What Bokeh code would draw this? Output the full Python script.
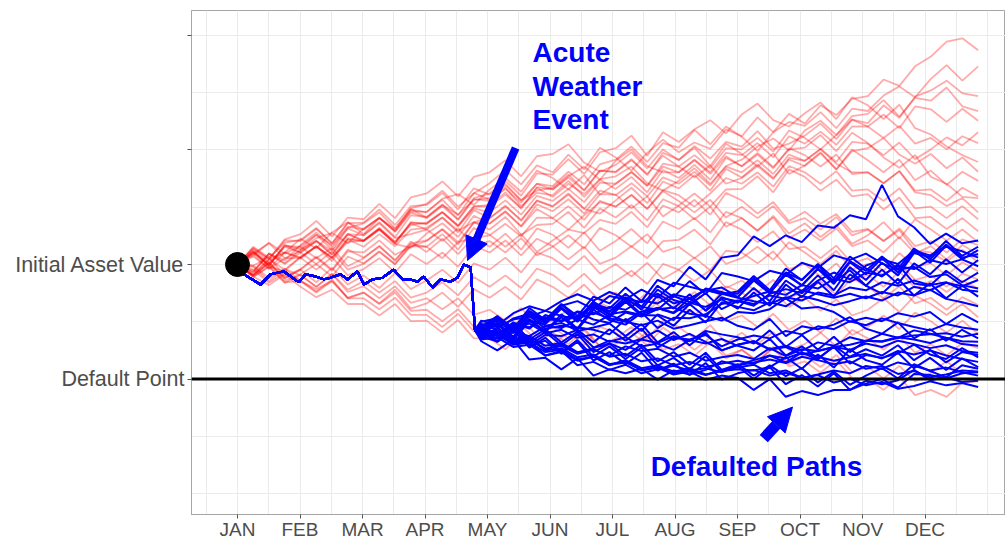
import numpy as np
from bokeh.plotting import figure
from bokeh.models import FixedTicker, Span, Arrow, NormalHead, Label, Range1d
from bokeh.embed import file_html
from bokeh.resources import INLINE

# ---------------- data ----------------
months = ["JAN", "FEB", "MAR", "APR", "MAY", "JUN", "JUL", "AUG", "SEP", "OCT", "NOV", "DEC"]
month_pos = [1, 2, 3, 4, 5, 6, 7, 8, 9, 10, 11, 12]
initial_value = 100
default_point = 80
y_ticks = [80, 100, 120, 140]
y_tick_labels = ["Default Point", "Initial Asset Value", "", ""]

# simulation time grid (months)
red_t = np.linspace(1, 12.85, 48).tolist()
blue_t = np.linspace(4.9, 12.85, 32).tolist()

# surviving (red) paths
red_01 = [100, 102.6, 100.4, 102.1, 104.5, 102.8, 105.6, 107.4, 105.3, 108.1, 106.2, 109.8, 110.6, 112.9, 110.1, 112.4,
          114.2, 116.5, 114.0, 117.3, 116.1, 119.2, 116.6, 120.4, 118.7, 116.4, 119.5, 121.8, 119.6, 121.3, 120.2, 123.6,
          122.4, 125.7, 123.1, 126.3, 124.6, 127.8, 126.1, 128.9, 129.4, 132.3, 131.2, 134.6, 136.3, 138.9, 139.5, 137.4]
red_02 = [100, 98.6, 101.9, 100.7, 103.4, 105.6, 103.1, 106.4, 107.2, 109.1, 106.3, 109.7, 108.2, 110.4, 108.7, 111.3,
          111.6, 113.8, 111.2, 114.1, 113.7, 116.2, 114.0, 117.5, 118.3, 120.6, 117.9, 121.2, 120.4, 123.5, 121.0, 124.1,
          122.3, 119.8, 123.1, 124.9, 124.2, 126.6, 123.8, 127.2, 126.8, 129.5, 131.1, 129.2, 132.4, 134.8, 132.1, 134.6]
red_03 = [100, 102.8, 101.0, 104.4, 105.3, 107.6, 104.9, 108.2, 107.9, 110.6, 108.1, 111.7, 112.4, 114.5, 111.9, 115.3,
          116.1, 118.2, 115.4, 118.9, 119.3, 121.0, 117.8, 116.2, 117.4, 119.6, 116.8, 120.1, 118.2, 120.7, 118.5, 121.4,
          120.6, 123.3, 120.2, 121.1, 122.5, 124.6, 121.9, 125.3, 124.7, 127.8, 125.6, 129.3, 130.4, 132.1, 129.9, 129.4]
red_04 = [100, 98.7, 101.9, 100.2, 102.6, 104.1, 101.8, 105.3, 104.2, 106.4, 104.0, 106.9, 107.3, 109.2, 106.8, 110.1,
          110.4, 112.6, 109.7, 113.4, 111.8, 114.1, 112.3, 114.9, 115.4, 117.1, 114.2, 112.9, 114.6, 116.8, 114.1, 117.2,
          118.3, 120.6, 122.0, 119.9, 123.4, 125.1, 122.6, 125.9, 126.3, 128.7, 125.8, 129.1, 128.6, 130.9, 127.6, 126.8]
red_05 = [100, 102.3, 99.8, 103.4, 102.7, 105.2, 102.6, 106.3, 105.1, 107.4, 104.8, 108.6, 108.3, 110.5, 107.9, 111.6,
          112.4, 114.6, 112.0, 115.9, 115.7, 118.4, 115.8, 119.6, 120.3, 122.5, 119.0, 123.1, 121.4, 123.6, 125.2, 122.9,
          126.2, 128.1, 125.2, 124.1, 126.4, 128.3, 125.4, 129.2, 127.8, 125.4, 127.9, 123.8, 122.7, 120.6, 119.1, 117.9]
red_06 = [100, 103.1, 101.2, 103.8, 104.3, 106.4, 103.7, 107.2, 107.3, 109.6, 106.9, 110.2, 110.4, 112.5, 109.6, 113.3,
          112.2, 114.1, 111.2, 112.9, 113.4, 115.7, 113.0, 116.4, 116.2, 118.4, 115.6, 119.5, 118.3, 120.4, 117.2, 121.1,
          119.3, 117.1, 119.4, 115.8, 117.3, 119.6, 116.6, 120.1, 118.2, 116.1, 118.3, 114.7, 116.4, 113.9, 116.2, 114.6]
red_07 = [100, 101.9, 103.7, 101.1, 102.4, 104.6, 105.5, 103.7, 106.3, 108.1, 105.8, 109.3, 109.2, 111.3, 108.6, 112.5,
          111.3, 113.4, 110.2, 112.5, 112.1, 114.6, 111.8, 114.8, 113.2, 115.3, 112.6, 116.5, 115.1, 117.4, 114.8, 118.6,
          117.2, 119.5, 117.0, 120.1, 120.4, 122.6, 119.8, 123.0, 121.2, 118.7, 116.9, 119.1, 115.3, 114.1, 111.8, 111.6]
red_08 = [100, 98.2, 100.9, 99.1, 101.3, 103.2, 100.6, 104.4, 103.1, 105.3, 103.2, 106.1, 106.4, 108.2, 105.6, 109.5,
          108.1, 110.3, 107.6, 111.2, 110.2, 112.4, 109.7, 108.9, 111.2, 113.4, 110.7, 114.5, 113.3, 115.6, 112.9, 116.7,
          115.2, 117.5, 115.1, 118.3, 117.2, 119.4, 116.6, 119.8, 120.3, 122.1, 119.2, 117.6, 119.3, 116.8, 118.7, 116.2]
red_09 = [100, 102.4, 99.6, 98.9, 101.3, 103.1, 101.2, 103.9, 104.2, 106.3, 103.6, 102.9, 105.4, 107.2, 104.8, 108.5,
          107.2, 109.3, 106.7, 110.5, 109.3, 111.4, 108.9, 112.3, 112.2, 109.8, 111.9, 108.4, 110.3, 112.4, 110.1, 113.1,
          113.2, 115.4, 112.6, 116.6, 115.3, 112.9, 114.8, 111.9, 112.3, 109.6, 111.7, 108.1, 108.3, 106.2, 108.1, 105.8]
red_10 = [100, 99.8, 101.3, 97.9, 99.2, 101.4, 99.1, 102.6, 101.2, 103.1, 100.8, 103.7, 104.2, 106.1, 103.5, 107.4,
          106.1, 108.3, 105.2, 106.9, 107.1, 109.2, 106.4, 109.8, 108.2, 110.4, 107.7, 111.4, 110.2, 107.9, 110.1, 106.6,
          108.1, 105.9, 108.5, 105.4, 107.2, 104.8, 106.9, 103.6, 105.1, 107.4, 104.5, 107.9, 106.1, 104.2, 106.1, 103.9]
red_11 = [100, 102.1, 99.8, 103.2, 103.1, 101.1, 102.9, 99.7, 101.1, 103.3, 100.6, 104.0, 102.2, 104.5, 101.8, 104.8,
          103.1, 105.4, 102.6, 106.3, 105.2, 102.9, 105.6, 102.4, 104.1, 106.2, 103.7, 107.5, 106.2, 108.1, 105.6, 109.2,
          108.1, 105.9, 108.2, 104.6, 106.1, 104.2, 106.3, 103.2, 104.2, 102.1, 104.8, 101.9, 103.2, 100.9, 103.4, 101.8]
red_12 = [100, 98.1, 100.2, 97.2, 98.3, 100.1, 97.9, 101.4, 100.2, 102.3, 100.1, 103.2, 103.1, 105.3, 102.6, 106.4,
          105.2, 103.1, 105.3, 102.2, 104.2, 106.1, 105.5, 107.8, 107.1, 109.2, 106.5, 110.3, 109.1, 111.3, 108.7, 112.5,
          111.2, 108.9, 110.9, 107.6, 109.2, 107.1, 108.8, 105.7, 106.2, 104.1, 106.0, 102.4, 102.1, 100.5, 102.6, 100.4]
red_13 = [100, 98.3, 100.9, 102.1, 101.2, 99.1, 101.3, 98.1, 99.2, 101.1, 98.6, 101.8, 100.1, 102.1, 99.6, 103.3,
          102.1, 104.2, 101.6, 104.5, 103.2, 100.9, 103.1, 100.1, 101.2, 103.2, 101.1, 104.1, 104.3, 106.1, 103.5, 107.4,
          106.1, 103.9, 105.8, 102.7, 103.1, 101.1, 103.3, 100.2, 101.1, 98.9, 102.0, 99.6, 100.2, 98.1, 100.4, 98.8]
red_14 = [100, 98.1, 100.3, 97.6, 99.1, 96.9, 99.4, 96.5, 98.1, 95.9, 98.5, 95.7, 97.2, 99.1, 96.8, 100.2,
          99.1, 101.2, 98.6, 102.1, 101.1, 99.1, 101.5, 98.4, 100.1, 97.9, 100.3, 97.5, 99.1, 101.2, 99.0, 102.4,
          102.1, 100.2, 102.3, 99.2, 100.1, 97.9, 100.2, 97.1, 98.2, 96.1, 98.8, 95.9, 97.1, 95.2, 97.2, 95.8]
red_15 = [100, 97.8, 99.6, 96.8, 98.2, 96.1, 98.4, 95.6, 97.1, 95.1, 97.1, 94.2, 95.1, 96.9, 94.6, 97.8,
          96.1, 98.1, 95.9, 99.3, 98.2, 96.1, 98.4, 95.6, 97.1, 98.9, 96.6, 100.1, 99.1, 97.1, 99.0, 95.9,
          97.2, 95.1, 97.3, 94.3, 95.1, 97.1, 94.7, 97.6, 96.1, 94.1, 96.2, 93.2, 94.2, 92.1, 94.3, 92.9]
red_16 = [100, 99.1, 96.8, 98.6, 97.2, 95.3, 97.4, 94.1, 95.1, 93.2, 95.6, 92.3, 93.2, 95.1, 92.6, 95.7,
          94.2, 96.1, 93.9, 97.4, 96.1, 94.2, 96.5, 93.6, 95.1, 92.8, 95.1, 91.9, 93.1, 95.2, 92.9, 96.2,
          95.1, 93.1, 95.4, 92.6, 94.2, 91.9, 93.9, 91.1, 92.1, 94.1, 91.7, 94.6, 93.1, 91.2, 93.1, 90.8]
red_17 = [100, 99.6, 97.1, 99.2, 98.1, 96.1, 98.3, 95.2, 96.2, 94.1, 96.2, 93.3, 94.1, 92.2, 94.1, 91.2,
          92.1, 90.2, 92.4, 89.1, 90.2, 92.1, 89.8, 93.2, 92.1, 94.0, 91.6, 94.7, 93.1, 91.2, 93.2, 90.1,
          91.1, 89.1, 91.4, 88.6, 90.2, 88.1, 90.6, 87.7, 89.1, 91.1, 88.7, 91.6, 90.1, 88.1, 90.2, 87.9]
red_18 = [100, 97.9, 99.7, 96.9, 97.1, 95.1, 97.1, 94.1, 94.1, 92.2, 94.2, 91.2, 91.2, 89.1, 91.4, 88.3,
          89.1, 87.1, 89.4, 86.6, 88.1, 86.1, 88.5, 85.7, 87.1, 89.1, 86.9, 90.2, 89.1, 87.1, 89.4, 86.3,
          88.1, 86.1, 88.2, 85.1, 86.1, 88.1, 85.7, 88.6, 87.1, 85.1, 87.4, 84.6, 86.1, 84.1, 86.3, 85.4]
red_19 = [100, 97.9, 96.4, 98.3, 96.1, 94.3, 95.6, 93.1, 93.1, 91.1, 93.1, 90.1, 90.2, 88.1, 90.3, 87.1,
          87.1, 85.2, 87.6, 85.7, 86.1, 88.1, 85.9, 89.1, 88.1, 86.1, 88.2, 85.1, 86.1, 84.1, 86.4, 83.6,
          85.1, 83.1, 85.6, 82.6, 84.1, 82.1, 84.2, 81.2, 82.1, 80.1, 82.3, 79.6, 81.1, 83.1, 80.9, 82.1]
red_20 = [100, 99.8, 97.6, 99.2, 97.1, 95.7, 97.1, 94.2, 95.1, 93.1, 95.1, 91.9, 92.1, 90.1, 92.2, 89.1,
          90.1, 88.1, 90.6, 87.6, 89.1, 87.1, 88.9, 85.7, 86.1, 88.1, 85.9, 89.0, 87.1, 85.1, 87.2, 84.1,
          85.1, 83.1, 85.4, 82.2, 83.1, 81.1, 83.3, 80.2, 80.1, 78.1, 80.4, 77.2, 78.1, 76.9, 79.4, 79.6]
red_21 = [100, 102.1, 99.9, 103.4, 102.1, 100.1, 102.3, 99.1, 100.1, 102.2, 100.0, 103.5, 103.1, 101.1, 103.9, 104.6,
          105.1, 107.1, 104.9, 108.2, 108.1, 106.1, 108.6, 110.9, 110.1, 112.1, 109.7, 113.0, 112.1, 110.1, 112.4, 115.1,
          114.1, 116.1, 113.6, 117.2, 116.1, 114.1, 116.3, 112.9, 113.1, 111.1, 113.3, 109.8, 110.1, 108.1, 110.2, 107.9]
red_22 = [100, 102.9, 100.9, 104.2, 104.1, 106.2, 103.7, 107.3, 106.1, 108.1, 105.9, 109.6, 109.1, 111.5, 112.3, 110.4,
          113.1, 115.1, 112.7, 116.4, 115.1, 113.1, 115.6, 112.2, 114.1, 116.1, 113.8, 117.6, 117.1, 119.1, 116.8, 120.3,
          120.1, 122.1, 119.7, 123.4, 122.1, 120.1, 122.6, 125.3, 124.1, 122.1, 124.2, 121.1, 122.1, 120.1, 122.4, 121.2]
red_23 = [100, 101.8, 99.2, 101.1, 101.1, 103.2, 101.2, 104.4, 104.1, 106.1, 103.6, 107.3, 107.1, 109.1, 106.8, 110.2,
          110.1, 112.2, 109.9, 113.5, 113.1, 115.4, 117.1, 114.8, 118.1, 120.1, 117.2, 116.1, 116.1, 118.3, 116.1, 119.5,
          119.1, 121.2, 118.7, 122.4, 121.1, 123.2, 120.9, 124.1, 124.1, 126.2, 123.8, 127.6, 127.1, 124.9, 127.2, 125.1]
red_24 = [100, 98.9, 101.9, 100.1, 102.1, 104.1, 101.7, 105.3, 104.1, 106.1, 103.9, 107.2, 106.1, 104.1, 106.3, 103.3,
          104.1, 102.1, 104.6, 101.6, 103.1, 105.1, 102.8, 106.4, 105.1, 103.1, 105.3, 102.2, 103.1, 101.1, 103.2, 100.1,
          101.1, 103.1, 100.8, 103.9, 102.1, 100.1, 102.4, 99.1, 100.1, 98.1, 100.2, 97.3, 98.1, 96.1, 98.4, 97.4]
red_25 = [100, 101.6, 103.8, 101.9, 103.2, 105.2, 103.4, 106.6, 106.1, 108.2, 105.7, 109.1, 108.1, 110.2, 107.8, 111.4,
          111.1, 113.2, 110.8, 114.1, 113.1, 115.2, 112.9, 116.4, 116.1, 118.2, 115.8, 119.0, 117.1, 115.2, 117.3, 114.1,
          115.1, 117.2, 114.9, 118.6, 118.1, 120.1, 117.6, 116.1, 116.1, 114.2, 116.3, 112.9, 113.1, 111.1, 113.4, 111.9]
red_26 = [100, 101.4, 99.3, 102.1, 101.1, 103.2, 101.1, 104.6, 104.1, 106.2, 103.7, 107.4, 107.1, 109.1, 106.6, 109.8,
          109.1, 111.2, 108.7, 112.0, 111.1, 113.2, 110.9, 114.3, 114.1, 116.2, 113.7, 117.1, 116.1, 118.2, 115.8, 118.9,
          117.1, 119.2, 116.8, 120.3, 119.1, 117.1, 119.2, 115.8, 116.1, 114.2, 116.3, 112.6, 112.1, 110.2, 111.6, 109.1]
red_27 = [100, 102.2, 100.1, 103.1, 102.1, 104.1, 102.4, 105.3, 105.1, 107.2, 104.6, 105.3, 106.1, 108.2, 105.9, 107.4,
          108.1, 110.1, 107.8, 111.1, 110.1, 112.2, 109.7, 112.9, 112.1, 114.2, 111.9, 115.2, 114.1, 116.2, 113.8, 117.1,
          116.1, 118.2, 115.8, 119.2, 118.1, 120.2, 117.9, 121.4, 121.1, 119.1, 121.3, 118.4, 120.1, 122.2, 120.8, 123.1]
red_28 = [100, 98.1, 100.4, 97.6, 99.1, 101.2, 98.9, 102.3, 102.1, 104.2, 101.7, 103.1, 104.1, 106.2, 103.9, 107.3,
          107.1, 109.2, 106.6, 109.7, 108.1, 110.2, 107.8, 111.1, 110.1, 112.2, 109.7, 112.8, 111.1, 109.1, 111.3, 108.2,
          110.1, 108.1, 110.2, 107.2, 108.1, 106.1, 108.3, 105.1, 106.1, 104.1, 106.3, 103.2, 104.1, 102.1, 104.4, 103.4]

# shared path before the acute weather event
event_t = [1.0, 1.10, 1.37, 1.53, 1.74, 1.98, 2.09, 2.25, 2.38, 2.49, 2.65, 2.76, 2.92, 3.02, 3.16, 3.32, 3.50, 3.64, 3.77, 3.88, 3.98, 4.12, 4.25, 4.41, 4.52, 4.62, 4.73, 4.80]
event_v = [100, 98.3, 96.5, 98.3, 98.8, 96.9, 98.3, 97.9, 97.4, 97.7, 98.3, 97.4, 98.8, 96.5, 97.4, 97.7, 99.1, 97.4, 97.4, 97.0, 97.9, 96.0, 97.4, 97.0, 97.7, 100.0, 99.5, 88.5]

# paths after the event (blue)
blue_01 = [89.0, 90.9, 88.4, 91.9, 90.3, 93.1, 91.0, 94.4, 93.2, 96.0, 93.6, 97.3, 96.2, 99.6, 97.4, 101.2,
           101.6, 104.9, 103.2, 105.1, 103.9, 106.8, 106.4, 108.6, 107.9, 113.9, 108.4, 106.5, 103.6, 105.4, 103.7, 104.2]
blue_02 = [88.5, 87.6, 89.9, 88.8, 91.2, 90.1, 90.9, 92.6, 91.7, 93.8, 92.6, 92.1, 94.5, 93.4, 95.8, 95.2,
           94.3, 97.2, 95.0, 98.6, 96.3, 99.2, 96.6, 100.4, 98.3, 101.1, 98.6, 102.4, 100.3, 103.3, 100.9, 102.5]
blue_03 = [87.8, 89.6, 87.0, 90.5, 88.3, 91.3, 88.8, 92.6, 90.8, 93.5, 91.0, 94.6, 92.3, 94.8, 91.9, 94.1,
           93.6, 92.8, 94.9, 95.7, 95.0, 97.2, 98.6, 97.4, 99.8, 100.9, 100.1, 102.4, 101.6, 103.1, 102.3, 101.2]
blue_04 = [89.5, 88.7, 90.6, 91.4, 90.1, 92.8, 93.6, 92.2, 94.5, 93.9, 95.6, 94.2, 96.8, 96.1, 95.4, 96.0,
           94.3, 97.3, 95.0, 98.6, 97.3, 99.9, 96.9, 99.0, 96.3, 99.1, 96.6, 100.2, 98.3, 100.9, 98.6, 100.8]
blue_05 = [88.2, 90.3, 88.0, 91.6, 89.8, 92.5, 90.2, 93.1, 92.3, 94.9, 92.6, 96.3, 94.3, 97.1, 94.8, 98.5,
           97.9, 97.1, 98.9, 98.2, 100.3, 99.4, 101.6, 100.8, 101.9, 100.2, 99.1, 99.6, 97.8, 98.3, 96.4, 95.8]
blue_06 = [87.4, 86.6, 88.3, 87.5, 89.2, 88.9, 90.4, 89.5, 91.2, 90.1, 91.8, 92.4, 91.5, 93.3, 92.6, 93.9,
           92.3, 95.1, 92.8, 96.5, 94.3, 97.0, 94.4, 98.3, 96.3, 94.9, 97.5, 94.6, 96.7, 94.1, 96.3, 94.4]
blue_07 = [88.9, 90.8, 88.7, 92.4, 90.3, 93.0, 90.5, 93.5, 91.3, 91.8, 91.2, 91.1, 89.3, 92.1, 89.9, 93.4,
           92.6, 92.0, 93.4, 92.7, 94.5, 93.8, 92.9, 93.6, 94.4, 93.7, 95.1, 94.6, 95.6, 94.0, 93.4, 92.7]
blue_08 = [90.2, 89.4, 91.5, 92.7, 91.9, 93.6, 94.8, 93.7, 95.2, 94.1, 93.4, 94.9, 93.2, 94.0, 95.6, 94.8,
           95.3, 98.0, 95.5, 99.3, 97.3, 100.1, 97.6, 101.4, 99.3, 97.9, 100.0, 96.7, 96.3, 98.9, 96.9, 98.6]
blue_09 = [88.0, 89.9, 87.4, 91.0, 88.8, 89.3, 89.0, 88.6, 87.8, 90.5, 88.4, 91.3, 90.3, 93.1, 90.8, 94.3,
           93.3, 95.9, 93.6, 97.2, 95.3, 98.1, 95.5, 99.5, 97.3, 100.3, 98.1, 102.0, 101.3, 104.1, 101.5, 103.1]
blue_10 = [88.6, 87.0, 89.1, 85.9, 87.7, 87.5, 88.6, 86.4, 88.7, 86.7, 88.8, 85.5, 87.2, 86.9, 87.7, 85.7,
           86.9, 87.6, 87.1, 88.4, 87.8, 89.2, 88.7, 90.1, 89.4, 90.6, 89.8, 89.1, 88.5, 89.6, 89.0, 88.6]
blue_11 = [87.2, 87.9, 86.4, 86.9, 85.3, 86.1, 84.6, 85.4, 86.2, 85.1, 86.9, 86.3, 87.5, 86.6, 88.4, 87.8,
           87.3, 86.2, 88.5, 85.6, 87.7, 85.1, 87.4, 84.7, 86.7, 86.5, 87.2, 87.6, 87.8, 88.0, 87.4, 87.9]
blue_12 = [88.8, 90.6, 88.2, 91.3, 89.3, 89.8, 88.4, 89.0, 89.7, 87.5, 89.6, 86.4, 88.2, 85.9, 88.1, 85.0,
           86.0, 86.6, 85.2, 85.8, 84.9, 86.4, 85.8, 87.3, 86.6, 87.9, 87.2, 88.5, 87.9, 87.2, 86.6, 86.5]
blue_13 = [87.6, 88.1, 86.5, 87.0, 85.2, 85.8, 84.4, 85.1, 84.1, 85.7, 84.9, 85.3, 83.9, 84.6, 83.2, 83.8,
           84.2, 83.5, 85.4, 84.0, 85.2, 84.9, 85.6, 86.0, 86.7, 86.6, 87.3, 86.9, 86.3, 87.2, 86.1, 85.8]
blue_14 = [88.1, 86.6, 88.6, 85.5, 87.2, 84.7, 86.8, 83.9, 85.7, 83.5, 85.5, 82.4, 83.7, 81.7, 84.0, 81.2,
           82.4, 83.3, 84.1, 83.6, 84.6, 83.9, 83.2, 83.8, 84.4, 83.6, 84.9, 84.3, 85.0, 84.1, 83.5, 83.0]
blue_15 = [86.9, 87.3, 85.6, 86.0, 84.1, 84.7, 83.2, 83.9, 82.4, 83.3, 81.9, 82.4, 81.3, 81.9, 80.8, 81.4,
           81.7, 81.5, 82.1, 83.8, 81.8, 84.3, 82.0, 85.2, 83.3, 82.5, 84.6, 81.9, 83.7, 81.6, 83.6, 82.1]
blue_16 = [88.4, 86.5, 88.5, 85.7, 86.7, 84.4, 86.5, 83.2, 84.7, 82.6, 84.6, 81.5, 82.7, 80.7, 82.8, 79.9,
           81.0, 81.6, 80.6, 81.1, 80.2, 80.8, 81.5, 81.0, 82.3, 81.8, 82.9, 82.3, 81.5, 82.0, 81.2, 80.6]
blue_17 = [87.5, 88.0, 86.2, 86.6, 84.1, 84.9, 82.4, 83.0, 81.6, 82.5, 81.0, 81.7, 82.3, 81.5, 81.9, 81.2,
           82.2, 80.0, 82.1, 79.1, 80.7, 78.7, 81.0, 78.1, 79.7, 79.1, 79.8, 81.6, 79.8, 80.3, 79.5, 79.7]
blue_18 = [89.0, 87.5, 89.5, 86.4, 88.2, 85.9, 87.9, 84.7, 86.2, 84.0, 86.0, 83.1, 84.7, 82.5, 84.6, 81.6,
           82.0, 82.5, 81.0, 81.5, 80.2, 80.7, 79.4, 80.1, 78.9, 79.5, 78.3, 78.8, 79.6, 78.9, 79.3, 78.6]
blue_19 = [87.9, 88.3, 86.7, 87.2, 85.0, 85.4, 83.8, 84.3, 82.6, 83.1, 81.5, 82.0, 80.8, 81.3, 79.9, 80.6,
           80.2, 78.1, 80.0, 76.9, 77.9, 77.2, 78.1, 78.1, 79.2, 80.0, 78.5, 80.9, 80.7, 80.1, 81.0, 81.2]
blue_20 = [89.3, 87.7, 89.8, 86.9, 88.7, 86.4, 88.3, 85.5, 86.7, 86.2, 87.0, 88.5, 86.8, 87.9, 86.5, 85.0,
           86.0, 86.6, 85.1, 85.6, 84.3, 84.9, 85.6, 85.1, 86.2, 85.6, 86.7, 86.1, 85.4, 85.9, 84.9, 84.6]
blue_21 = [88.3, 87.8, 89.3, 89.0, 90.8, 90.1, 91.7, 90.4, 89.8, 91.6, 90.9, 92.2, 92.5, 91.4, 91.0, 90.2,
           91.7, 91.5, 92.2, 94.1, 92.3, 92.6, 91.7, 90.0, 90.7, 90.1, 91.5, 90.9, 91.7, 89.6, 91.4, 89.9]
blue_22 = [87.0, 89.0, 86.8, 90.1, 88.3, 90.8, 88.6, 92.1, 90.3, 89.5, 91.6, 88.9, 90.7, 90.6, 91.3, 93.1,
           93.7, 93.1, 94.6, 94.0, 95.5, 94.8, 94.2, 94.9, 94.1, 95.2, 94.6, 96.1, 95.5, 96.8, 96.2, 97.3]
blue_23 = [90.0, 90.6, 89.1, 89.7, 88.0, 88.6, 87.2, 87.8, 86.5, 87.3, 85.7, 86.2, 85.1, 86.8, 86.2, 87.0,
           85.8, 85.0, 87.0, 84.1, 85.7, 83.6, 85.6, 82.7, 84.2, 83.7, 84.5, 86.0, 84.3, 83.5, 85.4, 83.8]
blue_24 = [86.6, 85.0, 86.9, 83.4, 83.7, 81.7, 83.6, 80.6, 81.7, 81.0, 81.8, 79.9, 81.5, 80.8, 81.6, 83.1,
           82.4, 82.9, 83.4, 82.8, 83.9, 83.3, 82.6, 83.1, 81.8, 82.3, 80.9, 81.4, 80.3, 80.8, 81.5, 81.3]
blue_25 = [89.6, 89.1, 90.4, 90.9, 91.9, 91.0, 90.5, 91.6, 90.6, 90.0, 89.4, 90.2, 88.8, 89.4, 90.1, 90.7,
           89.3, 88.6, 90.5, 87.5, 89.2, 88.7, 89.5, 90.8, 88.8, 87.9, 89.9, 87.1, 88.7, 86.7, 88.6, 87.1]
blue_26 = [88.7, 90.5, 88.4, 91.6, 89.8, 92.4, 90.2, 93.5, 91.8, 94.3, 92.1, 95.6, 93.8, 93.0, 95.0, 92.2,
           93.6, 94.5, 95.3, 94.7, 96.4, 95.8, 97.5, 96.9, 98.6, 98.1, 99.7, 99.2, 100.8, 100.1, 100.9, 99.7]
blue_27 = [88.0, 88.6, 87.0, 87.5, 85.8, 86.3, 84.7, 85.2, 83.9, 84.4, 83.1, 83.6, 82.4, 83.0, 82.1, 82.7,
           83.2, 82.6, 84.1, 82.9, 84.6, 83.4, 85.8, 83.9, 85.2, 84.1, 85.9, 83.3, 85.1, 82.9, 84.7, 84.2]
blue_28 = [89.1, 91.0, 88.8, 90.2, 89.6, 92.3, 90.0, 93.0, 91.2, 93.8, 91.3, 92.4, 91.6, 94.1, 92.0, 94.9,
           94.2, 93.6, 93.1, 94.3, 93.7, 95.1, 94.6, 96.0, 95.5, 96.9, 96.3, 97.2, 96.4, 96.9, 95.6, 95.3]
blue_29 = [87.2, 87.7, 86.0, 86.4, 84.7, 85.1, 83.4, 83.9, 82.5, 82.9, 81.6, 82.1, 81.0, 81.5, 80.7, 81.6,
           82.6, 80.6, 82.4, 80.5, 81.9, 79.4, 81.3, 79.0, 80.6, 81.9, 80.1, 82.6, 81.4, 80.3, 82.4, 81.8]
blue_30 = [88.4, 87.9, 89.4, 89.0, 90.5, 90.2, 91.8, 91.3, 92.6, 92.1, 93.7, 93.2, 94.8, 94.1, 95.5, 95.0,
           94.9, 97.6, 95.1, 98.2, 96.4, 99.3, 97.1, 100.6, 98.9, 101.4, 99.2, 102.8, 100.9, 103.5, 101.2, 101.8]

red_paths = [red_01, red_02, red_03, red_04, red_05, red_06, red_07, red_08, red_09, red_10, red_11, red_12, red_13, red_14,
             red_15, red_16, red_17, red_18, red_19, red_20, red_21, red_22, red_23, red_24, red_25, red_26, red_27, red_28]
blue_paths = [blue_01, blue_02, blue_03, blue_04, blue_05, blue_06, blue_07, blue_08, blue_09, blue_10,
              blue_11, blue_12, blue_13, blue_14, blue_15, blue_16, blue_17, blue_18, blue_19, blue_20,
              blue_21, blue_22, blue_23, blue_24, blue_25, blue_26, blue_27, blue_28, blue_29, blue_30]

# ---------------- figure ----------------
FONT = "Liberation Sans"
p = figure(width=1005, height=542, x_range=Range1d(0.264, 13.288), y_range=Range1d(56.35, 144.35),
           output_backend="svg", toolbar_location=None,
           min_border_left=191, min_border_right=0, min_border_top=10, min_border_bottom=0)
p.background_fill_color = "white"
p.border_fill_color = "white"
p.outline_line_color = "#a6a6a6"
p.outline_line_width = 1

# grid
p.xgrid.ticker = FixedTicker(ticks=np.arange(0.5, 13.01, 0.5).tolist())
p.ygrid.ticker = FixedTicker(ticks=list(range(60, 141, 10)))
for g in (p.xgrid, p.ygrid):
    g.grid_line_color = "#ebebeb"
    g.grid_line_width = 1

# axes
p.xaxis.ticker = FixedTicker(ticks=month_pos)
p.xaxis.major_label_overrides = {m: lab for m, lab in zip(month_pos, months)}
p.yaxis.ticker = FixedTicker(ticks=y_ticks)
p.yaxis.major_label_overrides = {t: lab for t, lab in zip(y_ticks, y_tick_labels)}
for ax in (p.xaxis, p.yaxis):
    ax.axis_line_color = "#a6a6a6"
    ax.major_tick_line_color = "#555555"
    ax.major_tick_out = 4
    ax.major_tick_in = 0
    ax.minor_tick_line_color = None
    ax.major_label_text_color = "#4d4d4d"
    ax.major_label_text_font = FONT
p.xaxis.major_label_text_font_size = "19px"
p.xaxis.major_label_standoff = 0
p.yaxis.major_label_text_font_size = "21.5px"
p.yaxis.major_label_standoff = 3

# red surviving paths
p.multi_line(xs=[red_t[:len(r)] for r in red_paths], ys=red_paths,
             line_color="#ff0000", line_alpha=0.33, line_width=1.8)

# blue defaulted / post-event paths
p.multi_line(xs=[event_t + blue_t[:len(b)] for b in blue_paths],
             ys=[event_v + b for b in blue_paths],
             line_color="#0000ff", line_width=2.0)

# default point line
p.add_layout(Span(location=default_point, dimension="width", line_color="black", line_width=3))

# initial asset value dot
p.scatter([1.0], [initial_value], size=24, color="black")

# annotations
BLUE = "#0000ff"
for txt, yy in (("Acute", 137.1), ("Weather", 131.1), ("Event", 125.4)):
    p.add_layout(Label(x=5.72, y=yy, text=txt, text_font=FONT, text_font_size="28px",
                       text_font_style="bold", text_color=BLUE, text_baseline="alphabetic"))
p.add_layout(Label(x=7.61, y=64.7, text="Defaulted Paths", text_font=FONT, text_font_size="28px",
                   text_font_style="bold", text_color=BLUE, text_baseline="alphabetic"))

p.add_layout(Arrow(x_start=5.45, y_start=120.35, x_end=4.68, y_end=100.7,
                   line_color=BLUE, line_width=8,
                   end=NormalHead(size=23, fill_color=BLUE, line_color=BLUE, line_width=1)))
p.add_layout(Arrow(x_start=9.42, y_start=69.6, x_end=9.88, y_end=75.1,
                   line_color=BLUE, line_width=11,
                   end=NormalHead(size=24, fill_color=BLUE, line_color=BLUE, line_width=1)))

open("out.html", "w").write(file_html(p, INLINE))
